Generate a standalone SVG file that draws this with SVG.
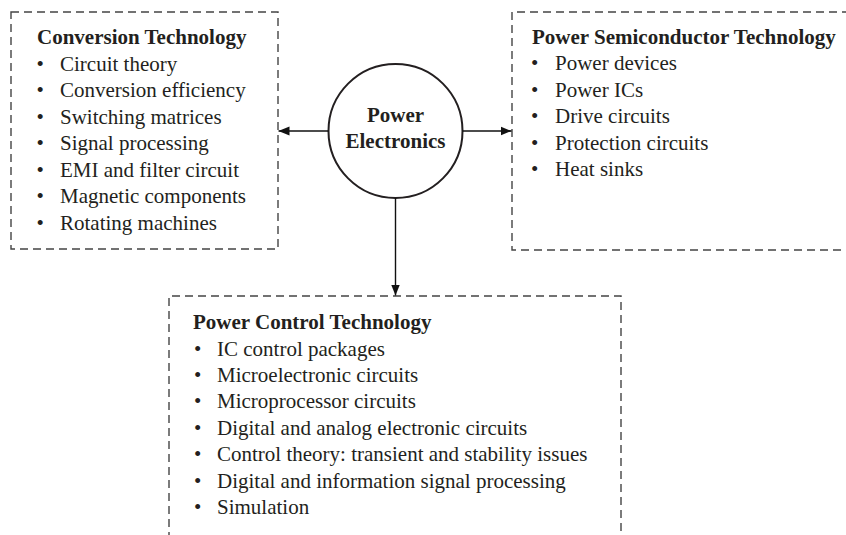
<svg xmlns="http://www.w3.org/2000/svg" width="846" height="535" viewBox="0 0 846 535">
<style>
.box{fill:none;stroke:#444;stroke-width:1.4;stroke-dasharray:8 5}
.t{font-family:"Liberation Serif","Times New Roman",serif;font-size:21px;fill:#231f20}
.b{font-weight:bold}
.edge{stroke:#111;stroke-width:1.4;fill:none}
</style>
<defs>
<marker id="ah" viewBox="0 0 10 10" refX="10" refY="5" markerWidth="11" markerHeight="11" markerUnits="userSpaceOnUse" orient="auto">
<path d="M0,1 L10,5 L0,9 Z" fill="#111"/>
</marker>
</defs>
<rect width="846" height="535" fill="#fff"/>
<g id="conversion">
<path class="box" d="M11,12 H278 V249 H11 Z"/>
<text class="t b" x="37" y="44">Conversion Technology</text>
<g class="t">
<text x="36.5" y="71">•</text><text x="60" y="71">Circuit theory</text>
<text x="36.5" y="97">•</text><text x="60" y="97">Conversion efficiency</text>
<text x="36.5" y="124">•</text><text x="60" y="124">Switching matrices</text>
<text x="36.5" y="150">•</text><text x="60" y="150">Signal processing</text>
<text x="36.5" y="177">•</text><text x="60" y="177">EMI and filter circuit</text>
<text x="36.5" y="203">•</text><text x="60" y="203">Magnetic components</text>
<text x="36.5" y="230">•</text><text x="60" y="230">Rotating machines</text>
</g>
</g>
<g id="semiconductor">
<path class="box" d="M850,12 H512 V250 H850"/>
<text class="t b" x="532" y="44">Power Semiconductor Technology</text>
<g class="t">
<text x="531" y="70">•</text><text x="555" y="70">Power devices</text>
<text x="531" y="97">•</text><text x="555" y="97">Power ICs</text>
<text x="531" y="123">•</text><text x="555" y="123">Drive circuits</text>
<text x="531" y="150">•</text><text x="555" y="150">Protection circuits</text>
<text x="531" y="176">•</text><text x="555" y="176">Heat sinks</text>
</g>
</g>
<g id="control">
<path class="box" d="M169,540 V296 H621 V540"/>
<text class="t b" x="193" y="329">Power Control Technology</text>
<g class="t">
<text x="194" y="356">•</text><text x="217" y="356">IC control packages</text>
<text x="194" y="382">•</text><text x="217" y="382">Microelectronic circuits</text>
<text x="194" y="408">•</text><text x="217" y="408">Microprocessor circuits</text>
<text x="194" y="435">•</text><text x="217" y="435">Digital and analog electronic circuits</text>
<text x="194" y="461">•</text><text x="217" y="461">Control theory: transient and stability issues</text>
<text x="194" y="488">•</text><text x="217" y="488">Digital and information signal processing</text>
<text x="194" y="514">•</text><text x="217" y="514">Simulation</text>
</g>
</g>
<g id="power-electronics">
<circle cx="395.5" cy="131" r="67" fill="#fff" stroke="#231f20" stroke-width="2"/>
<text class="t b" x="395.5" y="122" text-anchor="middle">Power</text>
<text class="t b" x="395.5" y="148" text-anchor="middle">Electronics</text>
</g>
<g id="connectors">
<line class="edge" x1="328.5" y1="131" x2="278.5" y2="131" marker-end="url(#ah)"/>
<line class="edge" x1="462.5" y1="131" x2="511.5" y2="131" marker-end="url(#ah)"/>
<line class="edge" x1="395.5" y1="198" x2="395.5" y2="295.5" marker-end="url(#ah)"/>
</g>
</svg>
